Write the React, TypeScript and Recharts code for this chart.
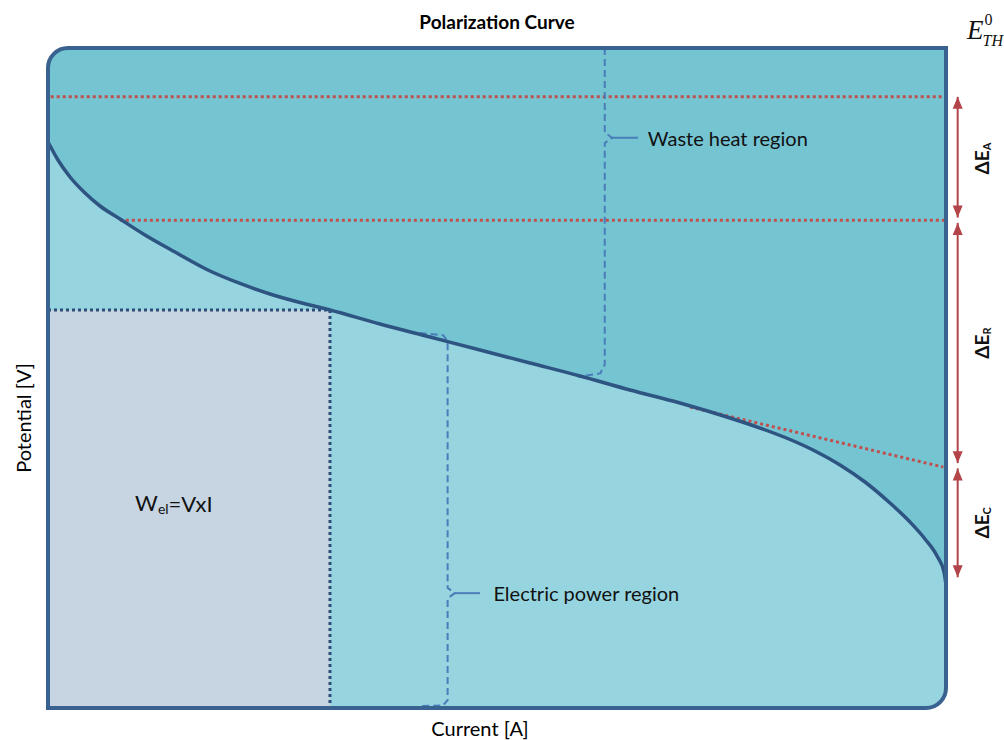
import {
  ComposedChart,
  Area,
  Line,
  XAxis,
  YAxis,
  ReferenceArea,
  ReferenceLine,
  ReferenceDot,
} from "recharts";

// polarization curve (current and potential as % of the axis range)
const curveX = [0, 1.11, 2.45, 4.12, 5.79, 8.02, 10.8, 14.14, 18.04, 21.38, 24.72, 28.06, 31.4, 36.97, 42.54, 48.11, 53.67, 59.24, 64.81, 70.38, 75.95, 79.29, 82.63, 85.41, 88.2, 90.98, 93.76, 95.99, 97.66, 99.0, 99.78, 100];
const curveY = [85.76, 83.03, 80.45, 78.03, 76.06, 74.09, 71.67, 69.09, 66.21, 64.32, 62.73, 61.44, 60.3, 58.18, 56.21, 54.24, 52.27, 50.3, 48.18, 46.21, 43.94, 42.42, 40.68, 38.94, 36.82, 34.24, 31.06, 28.18, 25.61, 23.03, 20.61, 18.64];

// operating point (W_el = V x I rectangle)
const opX = 31.4;
const opY = 60.3;

// loss levels (red dotted lines)
const activationY = 92.6;
const ohmicY = 73.9;
const ohmicStartX = 8.0;
const ohmicSlopeX = [71.5, 99.7];
const ohmicSlopeY = [45.6, 36.5];

// loss bands on the right
const bandNames = ["A", "R", "C"];
const bandTop = [92.6, 73.9, 36.7];
const bandBottom = [73.9, 36.7, 19.4];
const bandX = 101.3;

// region braces
const wasteX = [62.0, 62.0, 62.8, 62.0, 62.0, 61.5, 59.0];
const wasteY = [100, 87.2, 86.4, 85.6, 52.0, 50.7, 50.2];
const elecX = [41.4, 44.0, 44.5, 44.5, 45.3, 44.5, 44.5, 44.0, 41.4];
const elecY = [56.8, 56.5, 55.6, 18.2, 17.4, 16.6, 1.2, 0.4, 0.3];

const zip = (xs: number[], ys: number[]) => xs.map((x, i) => ({ x, y: ys[i] }));
const curveData = zip(curveX, curveY);
const wasteData = zip(wasteX, wasteY);
const elecData = zip(elecX, elecY);

const FONT = "Lato, 'Liberation Sans', sans-serif";
const BORDER = "#3a6290";
const R = 20;

const boxPath = (x: number, y: number, w: number, h: number) =>
  `M${x},${y + R} A${R},${R} 0 0 1 ${x + R},${y} L${x + w},${y} L${x + w},${y + h - R} A${R},${R} 0 0 1 ${x + w - R},${y + h} L${x},${y + h} Z`;

const BoxFill = (p: any) => <path d={boxPath(p.x, p.y, p.width, p.height)} fill="#75c4d2" />;

const BoxBorder = (p: any) => {
  const { x, y, width: w, height: h } = p;
  // white out the square corner left by the filled area below the curve
  const corner = `M${x + w},${y + h - R} L${x + w + 4},${y + h - R} L${x + w + 4},${y + h + 4} L${x + w - R},${y + h + 4} L${x + w - R},${y + h} A${R},${R} 0 0 0 ${x + w},${y + h - R} Z`;
  return (
    <g>
      <path d={corner} fill="#ffffff" />
      <path d={boxPath(x, y, w, h)} fill="none" stroke={BORDER} strokeWidth={4} />
    </g>
  );
};

const arrowHead = (dir: "up" | "down") => (p: any) => {
  const { cx, cy } = p;
  const s = dir === "up" ? 1 : -1;
  return <polygon points={`${cx},${cy} ${cx - 5},${cy + 12 * s} ${cx + 5},${cy + 12 * s}`} fill="#b3454a" />;
};

const textAt = (content: React.ReactNode, dx = 0, dy = 0, extra: any = {}) => (p: any) => (
  <text x={p.cx + dx} y={p.cy + dy} fontFamily={FONT} fill="#111" dominantBaseline="central" {...extra}>
    {content}
  </text>
);

const deltaLabel = (sub: string) => (p: any) => (
  <text
    x={p.cx}
    y={p.cy}
    transform={`rotate(-90 ${p.cx} ${p.cy})`}
    textAnchor="middle"
    dominantBaseline="central"
    fontFamily={FONT}
    fontWeight="bold"
    fontSize={19}
    fill="#111"
  >
    ΔE
    <tspan fontSize={11} dy={5}>
      {sub}
    </tspan>
  </text>
);

const ethLabel = (p: any) => (
  <text x={p.cx + 21} y={p.cy - 9} fontFamily="'Liberation Serif', serif" fontStyle="italic" fill="#111" fontSize={27}>
    E
    <tspan fontSize={16} dx={1} dy={-14} fontStyle="normal">
      0
    </tspan>
    <tspan fontSize={16} dx={-10} dy={21}>
      TH
    </tspan>
  </text>
);

export default function App() {
  return (
    <div style={{ position: "absolute", left: 0, top: 0, width: 1004, height: 740, background: "#fff", fontFamily: FONT }}>
      <div style={{ position: "absolute", top: 10, left: 497, transform: "translateX(-50%)", fontWeight: "bold", fontSize: 19, whiteSpace: "nowrap" }}>
        Polarization Curve
      </div>
      <div style={{ position: "absolute", left: 23, top: 418, transform: "translate(-50%, -50%) rotate(-90deg)", fontSize: 20, whiteSpace: "nowrap" }}>
        Potential [V]
      </div>
      <div style={{ position: "absolute", left: 480, top: 728, transform: "translate(-50%, -50%)", fontSize: 20, whiteSpace: "nowrap" }}>
        Current [A]
      </div>
      <ComposedChart width={1004} height={740} data={curveData} margin={{ top: 48, right: 58, bottom: 32, left: 48 }}>
        <XAxis type="number" dataKey="x" domain={[0, 100]} hide />
        <YAxis type="number" domain={[0, 100]} hide />

        <ReferenceArea x1={0} x2={100} y1={0} y2={100} shape={BoxFill} zIndex={10} />
        <Area type="monotone" dataKey="y" stroke="none" fill="#96d5df" fillOpacity={1} isAnimationActive={false} zIndex={20} />
        <ReferenceArea
          x1={0}
          x2={opX}
          y1={0}
          y2={opY}
          fill="#c6d5e1"
          fillOpacity={1}
          stroke="#2c4d78"
          strokeWidth={3}
          strokeDasharray="3 3"
          zIndex={30}
        />

        <ReferenceLine segment={[{ x: 0.3, y: activationY }, { x: 100, y: activationY }]} stroke="#c0504d" strokeWidth={3} strokeDasharray="3 3" zIndex={40} />
        <ReferenceLine segment={[{ x: ohmicStartX, y: ohmicY }, { x: 100, y: ohmicY }]} stroke="#c0504d" strokeWidth={3} strokeDasharray="3 3" zIndex={40} />
        <ReferenceLine
          segment={[{ x: ohmicSlopeX[0], y: ohmicSlopeY[0] }, { x: ohmicSlopeX[1], y: ohmicSlopeY[1] }]}
          stroke="#c0504d"
          strokeWidth={3}
          strokeDasharray="3 3"
          zIndex={40}
        />

        <Line data={wasteData} dataKey="y" stroke="#4a7dba" strokeWidth={2} strokeDasharray="7 4" dot={false} isAnimationActive={false} zIndex={50} />
        <Line data={elecData} dataKey="y" stroke="#4a7dba" strokeWidth={2} strokeDasharray="7 4" dot={false} isAnimationActive={false} zIndex={50} />
        <ReferenceLine segment={[{ x: 62.8, y: 86.4 }, { x: 65.7, y: 86.4 }]} stroke="#4a7dba" strokeWidth={2} zIndex={50} />
        <ReferenceLine segment={[{ x: 45.3, y: 17.4 }, { x: 48.1, y: 17.4 }]} stroke="#4a7dba" strokeWidth={2} zIndex={50} />

        <Line type="monotone" dataKey="y" stroke="#2e5482" strokeWidth={3.5} dot={false} isAnimationActive={false} zIndex={60} />

        <ReferenceArea x1={0} x2={100} y1={0} y2={100} shape={BoxBorder} zIndex={70} />

        {bandNames.map((name, i) => (
          <ReferenceLine
            key={`band-${name}`}
            segment={[{ x: bandX, y: bandTop[i] - (i === 0 ? 0 : 0.4) }, { x: bandX, y: bandBottom[i] + 0.4 }]}
            stroke="#b3454a"
            strokeWidth={2}
            ifOverflow="visible"
            zIndex={80}
          />
        ))}
        {bandNames.map((name, i) => (
          <ReferenceDot key={`up-${name}`} x={bandX} y={bandTop[i] - (i === 0 ? 0 : 0.4)} ifOverflow="visible" shape={arrowHead("up")} zIndex={80} />
        ))}
        {bandNames.map((name, i) => (
          <ReferenceDot key={`down-${name}`} x={bandX} y={bandBottom[i] + 0.4} ifOverflow="visible" shape={arrowHead("down")} zIndex={80} />
        ))}
        {bandNames.map((name, i) => (
          <ReferenceDot
            key={`lbl-${name}`}
            x={bandX + 2.6}
            y={(bandTop[i] + bandBottom[i]) / 2}
            ifOverflow="visible"
            shape={deltaLabel(name)}
            zIndex={90}
          />
        ))}

        <ReferenceDot x={100} y={100} ifOverflow="visible" shape={ethLabel} zIndex={90} />
        <ReferenceDot x={66.8} y={86.4} ifOverflow="visible" shape={textAt("Waste heat region", 0, 0, { fontSize: 20 })} zIndex={90} />
        <ReferenceDot x={49.6} y={17.4} ifOverflow="visible" shape={textAt("Electric power region", 0, 0, { fontSize: 20 })} zIndex={90} />
        <ReferenceDot
          x={9.7}
          y={31.1}
          ifOverflow="visible"
          shape={textAt(
            <>
              W<tspan fontSize={14} dy={5}>el</tspan>
              <tspan dy={-5}>=VxI</tspan>
            </>,
            0,
            0,
            { fontSize: 22 }
          )}
          zIndex={90}
        />
      </ComposedChart>
    </div>
  );
}
